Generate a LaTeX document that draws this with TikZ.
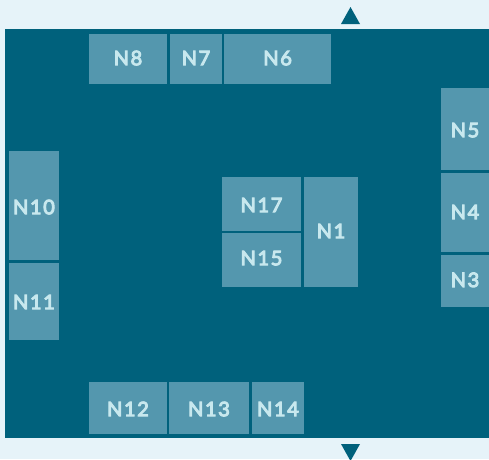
\documentclass[tikz,border=0pt]{standalone}
\usepackage{fontspec}
\setmainfont{Lato}
\newfontfamily\celllabel{Lato}[LetterSpace=8]
\definecolor{pagebg}{HTML}{E6F3F9}
\definecolor{deep}{HTML}{00617C}
\definecolor{cell}{HTML}{5497AE}
\definecolor{celltext}{HTML}{C8E8EE}
\tikzset{
  cellbox/.style={fill=cell,draw=none,inner sep=0pt,outer sep=0pt,text=celltext,font=\celllabel\fontsize{20}{20}\selectfont,anchor=center},
  marker/.style={fill=deep,draw=none}
}
\newcommand{\heavy}[1]{\special{pdf:code q 2 Tr 1 w 0.784 0.91 0.933 RG}#1\special{pdf:code Q}}
% name, x0, y0, x1, y1, text, text-centre offset below the box centre
\newcommand{\cellat}[7]{%
  \pgfmathsetmacro{\cw}{#4-#2}\pgfmathsetmacro{\ch}{#5-#3}%
  \pgfmathsetmacro{\tdrop}{7.2+#7}%
  \node[cellbox,minimum width=\cw pt,minimum height=\ch pt] (#1) at ({(#2+#4)/2},{(#3+#5)/2}) {\raisebox{-\tdrop pt}[0pt][0pt]{\heavy{#6}}};}
\begin{document}
\begin{tikzpicture}[x=1pt,y=-1pt]
\useasboundingbox (0,0) rectangle (489,459);
\fill[pagebg] (0,0) rectangle (489,459);
\fill[deep] (5,29) rectangle (489,438);
\cellat{n8}{89}{34}{167}{84}{N8}{-1}
\cellat{n7}{170}{34}{222}{84}{N7}{-1}
\cellat{n6}{224.3}{34}{331}{84}{N6}{-1}
\cellat{n5}{441}{88}{489}{170}{N5}{1}
\cellat{n4}{441}{173}{489}{252}{N4}{-0.5}
\cellat{n3}{441}{254.7}{489}{307}{N3}{-1}
\cellat{n17}{222}{177}{301}{231}{N17}{1}
\cellat{n15}{222}{233}{301}{287}{N15}{-2}
\cellat{n1}{304}{177}{358}{287}{N1}{-1}
\cellat{n10}{9}{151}{59}{260}{N10}{1.5}
\cellat{n11}{9}{263}{59}{340}{N11}{0.5}
\cellat{n12}{89}{382}{167}{434}{N12}{1}
\cellat{n13}{169}{382}{249}{434}{N13}{1}
\cellat{n14}{252}{382}{304}{434}{N14}{1}
\fill[marker] (341,24) -- (350.5,7) -- (360,24) -- cycle;
\fill[marker] (341,444) -- (350.5,461) -- (360,444) -- cycle;
\end{tikzpicture}
\end{document}
